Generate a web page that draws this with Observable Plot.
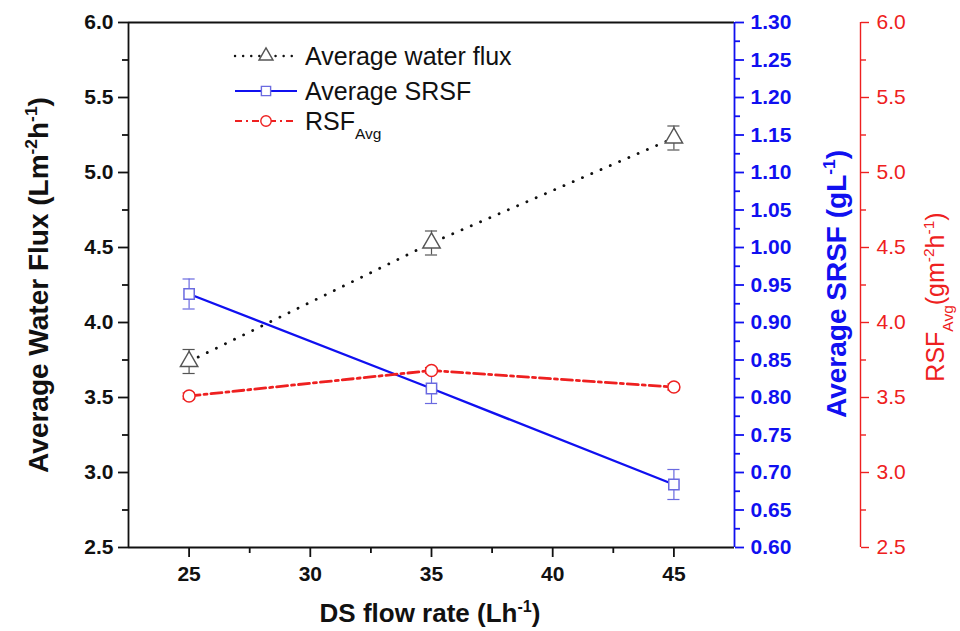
<!DOCTYPE html>
<html><head><meta charset="utf-8">
<script src="https://cdn.jsdelivr.net/npm/d3@7"></script>
<script src="https://cdn.jsdelivr.net/npm/@observablehq/plot@0.6"></script>
<style>body{margin:0;background:#fff;}</style>
</head><body><div id="chart"></div>
<script>
// ---- data ----
const flowRates = [25, 35, 45];
const waterFlux = [3.74, 4.53, 5.23];
const waterFluxErr = [0.08, 0.08, 0.08];
const srsf = [0.938, 0.812, 0.684];
const srsfErr = [0.02, 0.02, 0.02];
const rsfAvg = [3.51, 3.68, 3.57];
const rsfErr = [0.02, 0.02, 0.02];
const xMajorTicks = [25, 30, 35, 40, 45];
const xMinorTicks = [27.5, 32.5, 37.5, 42.5];
const leftMajorTicks = [2.5, 3.0, 3.5, 4.0, 4.5, 5.0, 5.5, 6.0];
const leftMinorTicks = [2.75, 3.25, 3.75, 4.25, 4.75, 5.25, 5.75];
const srsfMajorTicks = [0.60,0.65,0.70,0.75,0.80,0.85,0.90,0.95,1.00,1.05,1.10,1.15,1.20,1.25,1.30];
const srsfMinorTicks = [0.625,0.675,0.725,0.775,0.825,0.875,0.925,0.975,1.025,1.075,1.125,1.175,1.225,1.275];

// SRSF axis (0.6–1.3) mapped onto the left scale (2.5–6.0)
const toLeft = v => 2.5 + (v - 0.6) * 5;
const fromLeft = v => (v - 2.5) / 5 + 0.6;

const rows = flowRates.map((x, i) => ({
  x,
  wf: waterFlux[i], wfLo: waterFlux[i] - waterFluxErr[i], wfHi: waterFlux[i] + waterFluxErr[i],
  s: toLeft(srsf[i]), sLo: toLeft(srsf[i] - srsfErr[i]), sHi: toLeft(srsf[i] + srsfErr[i]),
  r: rsfAvg[i], rLo: rsfAvg[i] - rsfErr[i], rHi: rsfAvg[i] + rsfErr[i]
}));

const BLACK = "#111", GRAY = "#555", BLUE = "#1010f0", LBLUE = "#6a6ae0", RED = "#ee2020";
const capW = 0.25;
const FONT = "Liberation Sans, Arial, sans-serif";
const TICKFS = 21;
const RED_DX = 126;

const errBars = (lo, hi, color) => [
  Plot.ruleX(rows, {x: "x", y1: lo, y2: hi, stroke: color, strokeWidth: 1.2}),
  Plot.ruleY(rows, {y: lo, x1: d => d.x - capW, x2: d => d.x + capW, stroke: color, strokeWidth: 1.2}),
  Plot.ruleY(rows, {y: hi, x1: d => d.x - capW, x2: d => d.x + capW, stroke: color, strokeWidth: 1.2})
];

const plot = Plot.plot({
  width: 960, height: 631,
  marginLeft: 128, marginRight: 226, marginTop: 22, marginBottom: 84,
  style: {fontFamily: FONT, background: "white", color: BLACK},
  x: {domain: [22.5, 47.5]},
  y: {domain: [2.5, 6.0]},
  marks: [
    // frame
    Plot.ruleY([2.5, 6.0], {stroke: BLACK, strokeWidth: 1.8}),
    Plot.ruleX([22.5], {y1: 2.5, y2: 6.0, stroke: BLACK, strokeWidth: 1.8}),
    Plot.ruleX([47.5], {y1: 2.5, y2: 6.0, stroke: BLUE, strokeWidth: 1.8}),
    Plot.ruleX([47.5], {y1: 2.5, y2: 6.0, stroke: RED, strokeWidth: 1.4, dx: RED_DX}),
    // left axis
    Plot.axisY({ticks: leftMajorTicks, tickFormat: d3.format(".1f"), tickSize: 10, tickPadding: 5, fontSize: TICKFS, fontWeight: "bold", label: null, strokeWidth: 1.8}),
    Plot.axisY({ticks: leftMinorTicks, tickSize: 6, label: null, fill: "none", strokeWidth: 1.8}),
    // x axis
    Plot.axisX({ticks: xMajorTicks, tickFormat: d3.format("d"), tickSize: 10, tickPadding: 9, fontSize: TICKFS, fontWeight: "bold", label: null, strokeWidth: 1.8}),
    Plot.axisX({ticks: xMinorTicks, tickSize: 6, label: null, fill: "none", strokeWidth: 1.8}),
    // blue right axis
    Plot.axisY({anchor: "right", ticks: srsfMajorTicks.map(toLeft), tickFormat: v => fromLeft(v).toFixed(2), tickSize: 9, tickPadding: 7, fontSize: TICKFS, fontWeight: "bold", label: null, color: BLUE, strokeWidth: 1.8}),
    Plot.axisY({anchor: "right", ticks: srsfMinorTicks.map(toLeft), tickSize: 5, label: null, stroke: BLUE, fill: "none", strokeWidth: 1.8}),
    // red right axis
    Plot.axisY({anchor: "right", dx: RED_DX, ticks: leftMajorTicks, tickFormat: d3.format(".1f"), tickSize: 8, tickPadding: 8, fontSize: TICKFS, label: null, color: RED, strokeWidth: 1.4}),
    Plot.axisY({anchor: "right", dx: RED_DX, ticks: leftMinorTicks, tickSize: 5, label: null, stroke: RED, fill: "none", strokeWidth: 1.4}),
    // lines
    Plot.line(rows, {x: "x", y: "wf", stroke: BLACK, strokeWidth: 2.8, strokeDasharray: "0.1,10", strokeLinecap: "round"}),
    Plot.line(rows, {x: "x", y: "s", stroke: BLUE, strokeWidth: 2.4}),
    Plot.line(rows, {x: "x", y: "r", stroke: RED, strokeWidth: 2.8, strokeDasharray: "11,4,3,4"}),
    // error bars
    ...errBars("wfLo", "wfHi", GRAY),
    ...errBars("sLo", "sHi", LBLUE),
    ...errBars("rLo", "rHi", RED),
    // markers
    Plot.dot(rows, {x: "x", y: "wf", symbol: "triangle", r: 6.5, stroke: GRAY, fill: "white", strokeWidth: 1.4}),
    Plot.dot(rows, {x: "x", y: "s", symbol: "square", r: 5.8, stroke: LBLUE, fill: "white", strokeWidth: 1.5}),
    Plot.dot(rows, {x: "x", y: "r", symbol: "circle", r: 6, stroke: RED, fill: "white", strokeWidth: 1.5})
  ]
});
document.getElementById("chart").appendChild(plot);

// ---- titles and legend ----
const svg = d3.select(plot);
function richText(t, parts, size) {
  let pending = 0;
  parts.forEach(p => {
    if (typeof p === "string") {
      const s = t.append("tspan").text(p);
      if (pending) s.attr("dy", pending);
      pending = 0;
    } else if (p.sup) {
      t.append("tspan").attr("dy", pending - size * 0.4).attr("font-size", size * 0.62).text(p.sup);
      pending = size * 0.4;
    } else if (p.sub) {
      t.append("tspan").attr("dy", pending + size * 0.35).attr("font-size", size * 0.62).text(p.sub);
      pending = -size * 0.35;
    }
  });
  return t;
}
const titles = svg.append("g").attr("font-family", FONT);
richText(titles.append("text").attr("transform", "translate(48,285) rotate(-90)").attr("text-anchor", "middle")
  .attr("font-size", 28).attr("font-weight", "bold").attr("fill", BLACK),
  ["Average Water Flux (Lm", {sup: "-2"}, "h", {sup: "-1"}, ")"], 28);
richText(titles.append("text").attr("transform", "translate(846,284) rotate(-90)").attr("text-anchor", "middle")
  .attr("font-size", 28).attr("font-weight", "bold").attr("fill", BLUE),
  ["Average SRSF (gL", {sup: "-1"}, ")"], 28);
richText(titles.append("text").attr("transform", "translate(944,297) rotate(-90)").attr("text-anchor", "middle")
  .attr("font-size", 25).attr("fill", RED),
  ["RSF", {sub: "Avg"}, "(gm", {sup: "-2"}, "h", {sup: "-1"}, ")"], 25);
richText(titles.append("text").attr("x", 430).attr("y", 622).attr("text-anchor", "middle")
  .attr("font-size", 26).attr("font-weight", "bold").attr("fill", BLACK),
  ["DS flow rate (Lh", {sup: "-1"}, ")"], 26);

const legend = svg.append("g").attr("font-family", FONT).attr("text-anchor", "start");
const legItems = [
  {label: ["Average water flux"], stroke: BLACK, dash: "0.1,8", cap: "round", w: 2.4, sym: "triangle", mc: GRAY, y: 56},
  {label: ["Average SRSF"], stroke: BLUE, dash: null, cap: "butt", w: 2.2, sym: "square", mc: LBLUE, y: 91},
  {label: ["RSF", {sub: "Avg"}], stroke: RED, dash: "7,4,2,4", cap: "butt", w: 2.2, sym: "circle", mc: RED, y: 121}
];
legItems.forEach(it => {
  const y = it.y;
  const g = legend.append("g");
  g.append("line").attr("x1", 235).attr("x2", 297).attr("y1", y).attr("y2", y)
    .attr("stroke", it.stroke).attr("stroke-width", it.w).attr("stroke-dasharray", it.dash).attr("stroke-linecap", it.cap);
  const sym = {triangle: d3.symbolTriangle, square: d3.symbolSquare, circle: d3.symbolCircle}[it.sym];
  g.append("path").attr("d", d3.symbol(sym, 85)()).attr("transform", `translate(266,${y})`)
    .attr("fill", "white").attr("stroke", it.mc).attr("stroke-width", 1.4);
  richText(g.append("text").attr("x", 305).attr("y", y + 9).attr("font-size", 25).attr("fill", BLACK), it.label, 25);
});
</script>
</body></html>
